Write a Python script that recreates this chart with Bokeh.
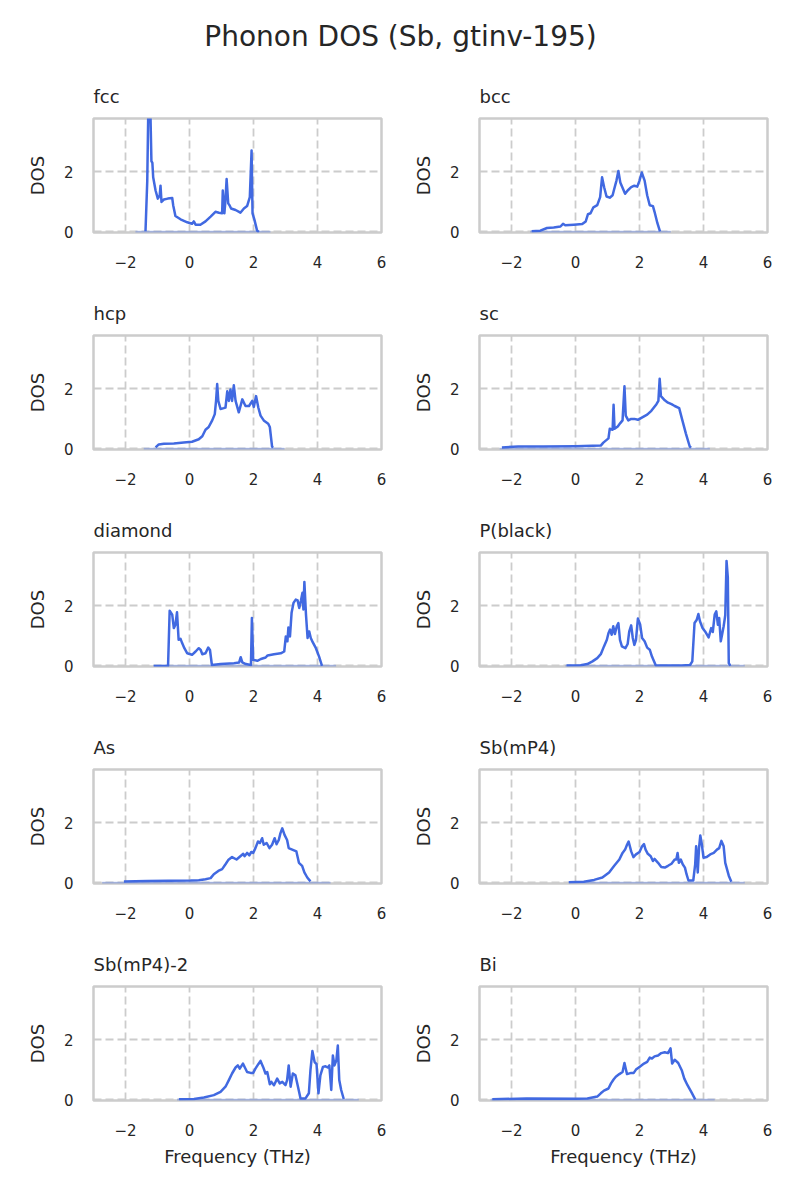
from bokeh.plotting import figure
from bokeh.layouts import column, row
from bokeh.models import FixedTicker, Range1d, CustomJSTickFormatter
from bokeh.embed import file_html
from bokeh.resources import INLINE
from bokeh.core.properties import value

suptitle = "Phonon DOS (Sb, gtinv-195)"
names = ["fcc", "bcc", "hcp", "sc", "diamond", "P(black)", "As", "Sb(mP4)", "Sb(mP4)-2", "Bi"]
x_ticks = [-2, 0, 2, 4, 6]
y_ticks = [0, 2]
x_label = "Frequency (THz)"
y_label = "DOS"

fcc_f = [-1.375, -1.32, -1.29, -1.22, -1.19, -1.16, -1.135, -1.06, -0.99, -0.93, -0.906, -0.875, -0.80, -0.68, -0.54,
         -0.51, -0.44, -0.28, -0.07, 0.08, 0.135, 0.19, 0.34, 0.50, 0.66, 0.81, 0.92, 1.02, 1.04, 1.09, 1.12, 1.16,
         1.21, 1.25, 1.30, 1.44, 1.59, 1.70, 1.80, 1.885, 1.94, 1.97, 2.03, 2.11, 2.17]
fcc_d = [0.02, 1.7, 3.9, 3.9, 2.36, 2.3, 1.82, 1.38, 1.11, 1.22, 1.54, 1.0, 1.08, 1.11, 1.13, 0.89, 0.53, 0.42, 0.32,
         0.27, 0.35, 0.24, 0.24, 0.35, 0.51, 0.67, 0.64, 0.62, 1.38, 0.62, 1.0, 1.76, 0.95, 0.89, 0.78, 0.73, 0.64,
         0.78, 0.86, 1.16, 2.71, 0.62, 0.40, 0.05, 0.0]

bcc_f = [-1.37, -1.10, -0.89, -0.68, -0.47, -0.39, -0.32, -0.05, 0.21, 0.32, 0.39, 0.47, 0.56, 0.68, 0.77, 0.83,
         0.895, 0.97, 1.07, 1.16, 1.21, 1.28, 1.34, 1.40, 1.55, 1.63, 1.74, 1.84, 1.93, 2.0, 2.07, 2.16, 2.24, 2.32,
         2.42, 2.47, 2.56, 2.64]
bcc_d = [0.02, 0.04, 0.13, 0.15, 0.18, 0.27, 0.22, 0.24, 0.26, 0.35, 0.59, 0.62, 0.82, 0.89, 1.16, 1.82, 1.49, 1.18,
         1.14, 1.22, 1.43, 1.71, 2.03, 1.65, 1.27, 1.38, 1.49, 1.54, 1.51, 1.71, 1.98, 1.71, 1.22, 0.89, 0.86, 0.67,
         0.29, 0.02]

hcp_f = [-1.06, -0.96, -0.80, -0.49, -0.18, 0.08, 0.29, 0.40, 0.50, 0.60, 0.71, 0.79, 0.83, 0.865, 0.90, 0.97, 1.07,
         1.125, 1.18, 1.23, 1.28, 1.33, 1.385, 1.44, 1.54, 1.65, 1.75, 1.86, 1.96, 2.01, 2.08, 2.15, 2.22, 2.32, 2.46,
         2.51, 2.58, 2.61]
hcp_d = [0.05, 0.15, 0.17, 0.18, 0.21, 0.24, 0.32, 0.42, 0.64, 0.73, 0.95, 1.16, 1.6, 2.16, 1.6, 1.33, 1.36, 1.38,
         1.92, 1.6, 1.98, 1.6, 2.12, 1.6, 1.22, 1.65, 1.43, 1.43, 1.6, 1.40, 1.76, 1.38, 1.11, 0.95, 0.84, 0.73, 0.08,
         0.04]

sc_f = [-2.3, -1.79, -1.0, 0.0, 0.79, 0.87, 1.03, 1.07, 1.16, 1.19, 1.22, 1.32, 1.40, 1.47, 1.53, 1.57, 1.65, 1.74,
        1.84, 1.95, 2.10, 2.24, 2.37, 2.53, 2.59, 2.63, 2.67, 2.79, 2.89, 3.0, 3.1, 3.24, 3.34, 3.45, 3.57, 3.61]
sc_d = [0.05, 0.08, 0.08, 0.09, 0.11, 0.21, 0.35, 0.67, 0.64, 1.47, 0.67, 0.75, 0.86, 0.95, 2.09, 1.11, 0.95, 1.0,
        1.0, 0.97, 1.06, 1.14, 1.27, 1.49, 1.60, 2.34, 1.76, 1.62, 1.54, 1.49, 1.43, 1.36, 0.95, 0.51, 0.08, 0.04]

dia_f = [-1.12, -0.67, -0.62, -0.54, -0.49, -0.44, -0.39, -0.34, -0.28, -0.23, -0.16, -0.07, 0.08, 0.19, 0.29, 0.35,
         0.40, 0.50, 0.585, 0.64, 0.70, 0.97, 1.39, 1.55, 1.60, 1.65, 1.76, 1.92, 1.95, 1.99, 2.12, 2.23, 2.38, 2.44,
         2.64, 2.85, 2.96, 3.01, 3.06, 3.09, 3.14, 3.19, 3.25, 3.32, 3.38, 3.43, 3.48, 3.53, 3.56, 3.59, 3.64, 3.69,
         3.74, 3.79, 3.85, 3.95, 4.05, 4.14]
dia_d = [0.0, 0.0, 1.84, 1.71, 1.26, 1.37, 1.79, 0.87, 0.9, 0.76, 0.59, 0.42, 0.37, 0.48, 0.59, 0.53, 0.39, 0.42,
         0.61, 0.53, 0.03, 0.06, 0.09, 0.11, 0.29, 0.12, 0.06, 0.03, 1.6, 0.2, 0.17, 0.23, 0.28, 0.35, 0.39, 0.42,
         0.48, 0.98, 0.82, 1.28, 0.98, 1.77, 2.1, 2.21, 2.18, 1.93, 2.16, 2.44, 1.88, 2.8, 1.71, 0.93, 1.15, 0.93,
         0.79, 0.59, 0.31, 0.0]

pb_f = [-0.28, 0.16, 0.37, 0.53, 0.68, 0.79, 0.89, 0.98, 1.03, 1.08, 1.13, 1.18, 1.23, 1.29, 1.34, 1.39, 1.45, 1.56,
        1.63, 1.68, 1.74, 1.79, 1.84, 1.89, 1.95, 2.02, 2.08, 2.16, 2.24, 2.32, 2.39, 2.51, 3.32, 3.58, 3.65, 3.72,
        3.79, 3.84, 3.89, 3.97, 4.05, 4.16, 4.24, 4.29, 4.35, 4.40, 4.45, 4.49, 4.54, 4.58, 4.63, 4.68, 4.72, 4.76,
        4.79, 4.84]
pb_d = [0.01, 0.02, 0.06, 0.15, 0.26, 0.39, 0.65, 0.87, 1.09, 1.21, 1.04, 1.32, 1.06, 1.32, 1.43, 0.87, 0.65, 0.59,
        0.73, 1.15, 1.35, 0.93, 0.70, 0.87, 1.58, 1.38, 0.93, 0.82, 0.61, 0.54, 0.31, 0.01, 0.01, 0.03, 0.15, 1.43,
        1.54, 1.73, 1.49, 1.26, 1.15, 0.95, 1.26, 1.13, 1.71, 1.82, 1.37, 1.6, 0.82, 1.04, 1.32, 1.69, 3.5, 2.94,
        0.09, 0.0]

as_f = [-2.05, -1.32, 0.03, 0.29, 0.50, 0.66, 0.76, 0.90, 1.02, 1.125, 1.21, 1.33, 1.47, 1.59, 1.68, 1.72, 1.80,
        1.87, 1.93, 1.99, 2.06, 2.14, 2.20, 2.27, 2.32, 2.41, 2.50, 2.58, 2.66, 2.72, 2.79, 2.84, 2.90, 2.97, 3.05,
        3.10, 3.21, 3.34, 3.42, 3.52, 3.59, 3.68, 3.78]
as_d = [0.05, 0.065, 0.076, 0.087, 0.12, 0.16, 0.29, 0.40, 0.46, 0.62, 0.76, 0.86, 0.78, 0.89, 0.97, 0.89, 1.0,
        0.92, 1.03, 1.0, 1.16, 1.38, 1.33, 1.49, 1.27, 1.33, 1.16, 1.27, 1.49, 1.29, 1.43, 1.65, 1.82, 1.6, 1.43,
        1.16, 1.11, 1.05, 0.67, 0.57, 0.35, 0.18, 0.05]

smp_f = [-0.21, 0.26, 0.58, 0.84, 1.05, 1.21, 1.37, 1.47, 1.55, 1.61, 1.66, 1.74, 1.81, 1.89, 2.0, 2.08, 2.14, 2.19,
         2.26, 2.35, 2.42, 2.47, 2.58, 2.68, 2.79, 2.89, 3.0, 3.1, 3.15, 3.19, 3.23, 3.29, 3.35, 3.42, 3.47, 3.53,
         3.68, 3.74, 3.77, 3.82, 3.86, 3.90, 3.95, 4.0, 4.1, 4.21, 4.32, 4.42, 4.49, 4.56, 4.63, 4.68, 4.79, 4.87]
smp_d = [0.02, 0.04, 0.10, 0.18, 0.35, 0.57, 0.78, 1.0, 1.11, 1.27, 1.38, 1.05, 0.86, 0.95, 1.03, 1.22, 1.29, 1.11,
         0.97, 0.89, 0.73, 0.80, 0.67, 0.53, 0.51, 0.57, 0.64, 0.78, 0.78, 1.0, 0.67, 0.78, 0.62, 0.51, 0.29, 0.08,
         0.08, 0.62, 1.22, 0.35, 1.16, 1.58, 1.27, 0.84, 0.86, 0.95, 1.0, 1.11, 1.16, 1.40, 1.22, 0.67, 0.24, 0.04]

sm2_f = [-0.33, 0.14, 0.45, 0.76, 0.97, 1.125, 1.23, 1.33, 1.44, 1.51, 1.57, 1.67, 1.75, 1.80, 1.91, 1.99, 2.06,
         2.15, 2.22, 2.30, 2.375, 2.43, 2.51, 2.56, 2.64, 2.74, 2.82, 2.90, 3.0, 3.05, 3.10, 3.16, 3.23, 3.31, 3.39,
         3.47, 3.625, 3.73, 3.78, 3.84, 3.91, 3.97, 4.03, 4.09, 4.17, 4.25, 4.32, 4.37, 4.43, 4.48, 4.53, 4.59, 4.635,
         4.68, 4.74, 4.82]
sm2_d = [0.02, 0.03, 0.08, 0.16, 0.27, 0.44, 0.66, 0.88, 1.08, 1.15, 1.04, 1.21, 1.04, 0.93, 0.90, 0.90, 1.04, 1.19,
         1.30, 1.10, 0.88, 0.93, 0.52, 0.60, 0.49, 0.71, 0.55, 0.60, 0.49, 0.66, 1.15, 0.44, 0.88, 0.82, 0.44, 0.05,
         0.05, 0.22, 0.99, 1.63, 1.26, 1.19, 0.22, 0.82, 1.10, 1.12, 1.08, 1.15, 0.33, 1.48, 1.15, 1.32, 1.81, 0.66,
         0.33, 0.03]

bi_f = [-2.6, -1.53, 0.0, 0.37, 0.68, 0.79, 0.89, 1.03, 1.11, 1.19, 1.26, 1.37, 1.47, 1.53, 1.57, 1.61, 1.74, 1.82,
        1.89, 2.0, 2.14, 2.24, 2.32, 2.39, 2.47, 2.58, 2.68, 2.79, 2.89, 2.97, 3.02, 3.10, 3.21, 3.32, 3.40, 3.50,
        3.63, 3.74]
bi_d = [0.02, 0.05, 0.04, 0.05, 0.11, 0.22, 0.31, 0.38, 0.55, 0.68, 0.77, 0.86, 0.93, 1.23, 1.04, 0.86, 0.90, 0.90,
        1.01, 1.10, 1.21, 1.27, 1.41, 1.38, 1.45, 1.48, 1.56, 1.59, 1.56, 1.72, 1.21, 1.34, 1.23, 0.99, 0.71, 0.49,
        0.24, 0.02]

# faint zero-DOS tails (full frequency span of each calculation)
tail_lo = [-1.69, -1.42, -1.43, -2.37, -1.12, -0.32, -2.73, -0.21, -0.39, -2.66]
tail_hi = [2.53, 2.98, 2.97, 4.20, 4.58, 5.29, 4.41, 5.29, 5.29, 4.35]
tail_val = [0.0, 0.0]

freqs = [fcc_f, bcc_f, hcp_f, sc_f, dia_f, pb_f, as_f, smp_f, sm2_f, bi_f]
doses = [fcc_d, bcc_d, hcp_d, sc_d, dia_d, pb_d, as_d, smp_d, sm2_d, bi_d]

FONT = "DejaVu Sans"
TXT = "#262626"
GRID = "#cccccc"
LINE = "#4169e1"

minus_fmt = "return tick < 0 ? '\u2212' + Math.abs(tick) : String(tick);"


def make_panel(i):
    col = i % 2
    last = i >= 8
    p = figure(frame_width=288, frame_height=114,
               x_range=Range1d(-3, 6), y_range=Range1d(-0.02, 3.78),
               output_backend="svg", toolbar_location=None,
               min_border_left=93 if col == 0 else 79,
               min_border_right=19 if col == 0 else 33,
               min_border_top=46, min_border_bottom=76 if last else 57,
               title=names[i])
    p.title.text_font_size = "18px"
    p.title.text_font_style = "normal"
    p.title.text_font = FONT
    p.title.text_color = TXT
    p.title.align = "left"
    p.title.standoff = 23

    p.xaxis.ticker = FixedTicker(ticks=x_ticks)
    p.yaxis.ticker = FixedTicker(ticks=y_ticks)
    p.xaxis.formatter = CustomJSTickFormatter(code=minus_fmt)
    p.yaxis.formatter = CustomJSTickFormatter(code=minus_fmt)
    for ax in p.axis:
        ax.axis_line_color = None
        ax.major_tick_line_color = None
        ax.minor_tick_line_color = None
        ax.major_tick_out = 0
        ax.major_tick_in = 0
        ax.minor_tick_out = 0
        ax.minor_tick_in = 0
        ax.major_label_text_font_size = "15px"
        ax.major_label_text_font = FONT
        ax.major_label_text_color = TXT
        ax.axis_label_text_font_size = "18px"
        ax.axis_label_text_font_style = "normal"
        ax.axis_label_text_font = FONT
        ax.axis_label_text_color = TXT
    p.xaxis.major_label_standoff = 23
    p.yaxis.major_label_standoff = 20
    p.yaxis.axis_label = y_label
    p.yaxis.axis_label_standoff = 13
    if last:
        p.xaxis.axis_label = x_label
        p.xaxis.axis_label_standoff = 7

    p.grid.grid_line_color = GRID
    p.grid.grid_line_dash = "8 4"
    p.grid.grid_line_width = 1.8
    p.outline_line_color = GRID
    p.outline_line_width = 2.5

    p.line([tail_lo[i], tail_hi[i]], tail_val, line_color=LINE, line_alpha=0.35, line_width=2.5)
    p.line(freqs[i], doses[i], line_color=LINE, line_width=2.5, line_join="round")
    return p


tf = figure(width=800, height=72, x_range=Range1d(0, 800), y_range=Range1d(0, 72),
            output_backend="svg", toolbar_location=None, min_border=0,
            x_axis_location=None, y_axis_location=None)
tf.grid.visible = False
tf.outline_line_color = None
tf.text(x=[400], y=[36], text=[suptitle], text_align="center", text_baseline="alphabetic",
        text_font_size="28px", text_font=value(FONT), text_color=TXT)

panels = [make_panel(i) for i in range(len(names))]
rows = [row(panels[2 * k], panels[2 * k + 1]) for k in range(5)]
p = column(tf, *rows)

open("out.html", "w").write(file_html(p, INLINE))
